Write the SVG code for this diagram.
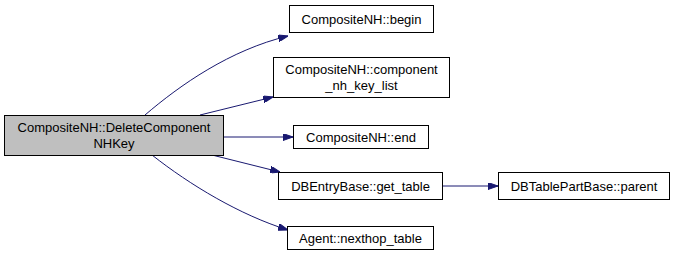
<svg xmlns="http://www.w3.org/2000/svg" width="673" height="256" viewBox="0 0 673 256">
  <style>
    .node rect { fill: #ffffff; stroke: #000000; stroke-width: 1; }
    .node.main rect { fill: #bfbfbf; }
    .node text { font-family: "Liberation Sans", Arial, sans-serif; font-size: 13px; fill: #000000; text-anchor: middle; }
    .edge { fill: none; stroke: #191970; stroke-width: 1; }
  </style>
  <defs>
    <marker id="arrow" viewBox="0 0 10 7" refX="10" refY="3.5" markerWidth="10" markerHeight="7" markerUnits="userSpaceOnUse" orient="auto">
      <path d="M0,0 L10,3.5 L0,7 Z" fill="#191970" stroke="#191970"/>
    </marker>
  </defs>

  <g id="connectors">
    <path class="edge" marker-end="url(#arrow)" d="M145,115 C180,85 230,50 288,36"/>
    <path class="edge" marker-end="url(#arrow)" d="M200,115 L273,97"/>
    <path class="edge" marker-end="url(#arrow)" d="M224,137 L293,137"/>
    <path class="edge" marker-end="url(#arrow)" d="M212,155 L280,172"/>
    <path class="edge" marker-end="url(#arrow)" d="M152,155 C190,185 240,215 288,230"/>
    <path class="edge" marker-end="url(#arrow)" d="M442,186 L498,186"/>
  </g>

  <g id="node-deletecomponentnhkey" class="node main">
    <rect x="4.5" y="115.5" width="219" height="40"/>
    <text x="114" y="132">CompositeNH::DeleteComponent</text>
    <text x="114" y="148">NHKey</text>
  </g>

  <g id="node-begin" class="node">
    <rect x="289.5" y="5.5" width="144" height="27"/>
    <text x="361.5" y="23.5">CompositeNH::begin</text>
  </g>

  <g id="node-component-nh-key-list" class="node">
    <rect x="273.5" y="57.5" width="176" height="40"/>
    <text x="361.5" y="74">CompositeNH::component</text>
    <text x="361.5" y="90">_nh_key_list</text>
  </g>

  <g id="node-end" class="node">
    <rect x="293.5" y="125.5" width="135" height="23"/>
    <text x="361" y="141.5">CompositeNH::end</text>
  </g>

  <g id="node-get-table" class="node">
    <rect x="278.5" y="172.5" width="164" height="27"/>
    <text x="360.5" y="190.5">DBEntryBase::get_table</text>
  </g>

  <g id="node-nexthop-table" class="node">
    <rect x="287.5" y="226.5" width="146" height="23"/>
    <text x="360.5" y="242.5">Agent::nexthop_table</text>
  </g>

  <g id="node-parent" class="node">
    <rect x="498.5" y="172.5" width="171" height="27"/>
    <text x="584" y="190.5">DBTablePartBase::parent</text>
  </g>
</svg>
